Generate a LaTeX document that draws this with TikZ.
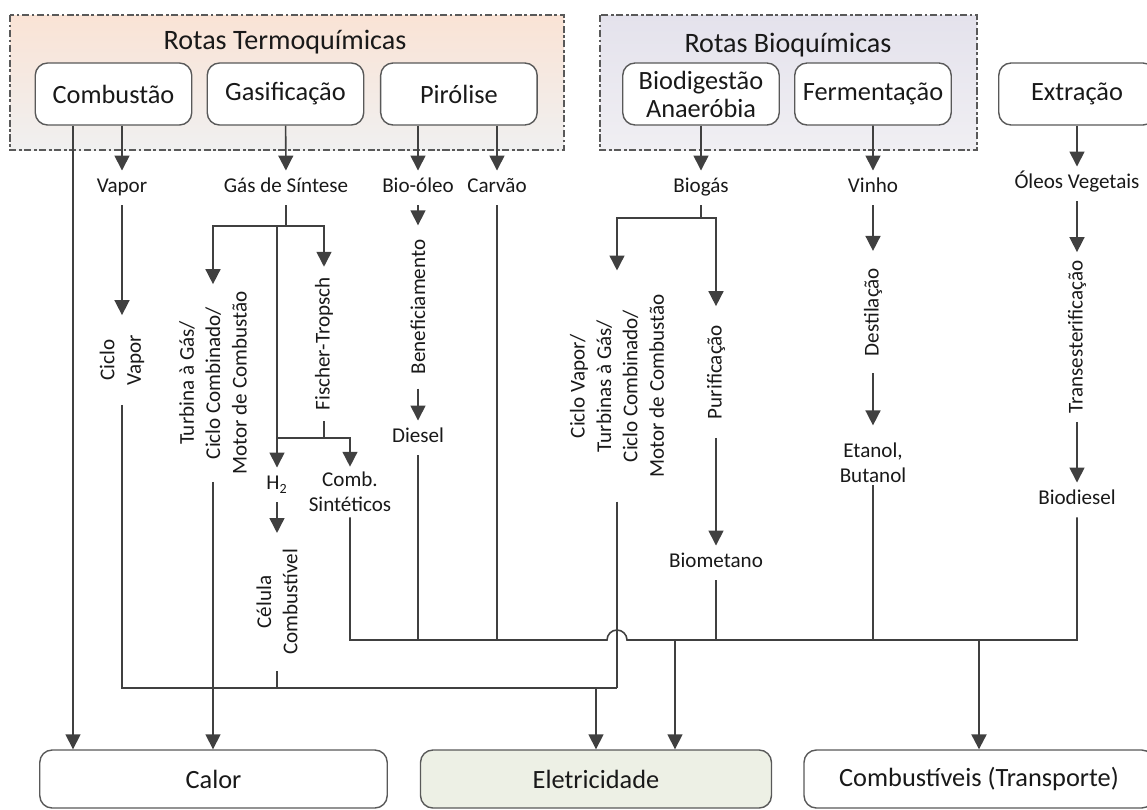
\documentclass[tikz,border=0pt]{standalone}
\usepackage{fontspec}
\setmainfont{Carlito}
\usetikzlibrary{arrows.meta,positioning}
\definecolor{linegray}{HTML}{404040}
\definecolor{boxgray}{HTML}{595959}
\definecolor{termotop}{HTML}{FAE3D5}
\definecolor{termobot}{HTML}{F0F0F0}
\definecolor{biotop}{HTML}{E4E2EC}
\definecolor{biobot}{HTML}{F0EFF3}
\definecolor{eletfill}{HTML}{EDF0E5}
\tikzset{
    component/.style={
    rectangle,rounded corners=7pt,draw=boxgray,line width=0.8pt,fill=white,
    minimum width=3.13cm,minimum height=1.24cm,align=center,
    font=\fontsize{15}{16}\selectfont
    },
    enduse/.style={
    component,minimum width=6.95cm,minimum height=1.16cm
    },
    grouptitle/.style={
    font=\fontsize{16}{18}\selectfont
    },
    dgroup/.style={
    draw=boxgray,line width=0.6pt,dash pattern=on 4pt off 1.5pt on 1.5pt off 1.5pt
    },
    product/.style={
    font=\fontsize{12}{15}\selectfont,inner xsep=2pt,inner ysep=4.5pt,
    text height=8pt,text depth=2.5pt
    },
    product2/.style={
    font=\fontsize{12}{14}\selectfont,align=center,inner sep=3pt
    },
    process/.style={
    font=\fontsize{12}{15}\selectfont,align=center,rotate=90,inner ysep=2pt
    },
    flow/.style={
    draw=linegray,line width=0.9pt
    },
    arr/.style={
    flow,-{Triangle[length=8.5pt,width=8.5pt]}
    },
}
\begin{document}
\begin{tikzpicture}[x=0.02cm, y=-0.02cm, on grid, text=black!90]
   \useasboundingbox (0,0) rectangle (1147,809);
   \draw[dgroup,top color=termotop,bottom color=termobot] (10,15) rectangle (564,150);
   \draw[dgroup,top color=biotop,bottom color=biobot] (600,15) rectangle (977,150);

   \node[grouptitle] (termo) at (285,42) {Rotas Termoquímicas};
   \node[component] (comb) at (113.5,94) {Combustão};
   \node[component] (gasif) [right=3.44cm of comb] {Gasificação};
   \node[component] (piro) [right=3.47cm of gasif] {Pirólise};
   \node[grouptitle] (bioq) at (788,45) {Rotas Bioquímicas};
   \node[component] (biodig) at (701,94) {Biodigestão\\Anaeróbia};
   \node[component] (ferm) [right=3.44cm of biodig] {Fermentação};
   \node[component] (extr) at (1077,94) {Extração};

   \node[enduse] (calor) at (213.5,779) {Calor};
   \node[enduse,fill=eletfill,minimum width=7.02cm] (eletr) at (596,779) {Eletricidade};
   \node[enduse,minimum width=7cm] (combust) at (979,779) {Combustíveis (Transporte)};

   \node[product] (vapor) at (122,188) {Vapor};
   \node[product] (gas) at (286,188) {Gás de Síntese};
   \node[product] (bioleo) at (418,188) {Bio-óleo};
   \node[product] (carvao) at (497,188) {Carvão};
   \node[product] (biogas) at (701,188) {Biogás};
   \node[product] (vinho) at (873,188) {Vinho};
   \node[product] (oleos) at (1077,184) {Óleos Vegetais};

   \node[process,inner xsep=11pt] (ciclovap) at (122,360) {Ciclo\\Vapor};
   \node[process,inner xsep=4pt] (turbina) at (213,383) {Turbina à Gás/\\Ciclo Combinado/\\Motor de Combustão};
   \node[process,inner xsep=6pt] (fischer) at (324,344) {Fischer-Tropsch};
   \node[process,inner xsep=8pt] (benef) at (418,307) {Beneficiamento};
   \node[process,inner xsep=13.5pt] (turbina2) at (617,386) {Ciclo Vapor/\\Turbinas à Gás/\\Ciclo Combinado/\\Motor de Combustão};
   \node[process,inner xsep=10.5pt] (purif) at (716,372) {Purificação};
   \node[process,inner xsep=9.5pt] (destil) at (873,312) {Destilação};
   \node[process,inner xsep=4.5pt] (transest) at (1077,337) {Transesterificação};
   \node[process,inner xsep=9pt] (celula) at (277,602) {Célula\\Combustível};

   \node[product] (diesel) at (418,438) {Diesel};
   \node[product] (h2) at (277,485) {H\textsubscript{2}};
   \node[product2] (combsint) at (350,492) {Comb.\\Sintéticos};
   \node[product2,inner sep=1pt] (etanol) at (873,463) {Etanol,\\Butanol};
   \node[product] (biodiesel) at (1077,500) {Biodiesel};
   \node[product] (biometano) at (716,563) {Biometano};

   \coordinate (gs) at (286,226);
   \coordinate (fj) at (324,438);
   \coordinate (bs) at (701,218);
   \coordinate (elbus) at (617,688);
   \coordinate (hump) at (617,640);
   \coordinate (fuelbus) at (1077,640);
   \coordinate (eletin) at (675,640);

   \draw[arr] ([xshift=-0.81cm]comb.south) -- ([xshift=-0.81cm]comb.south |- calor.north);
   \draw[arr] (vapor |- comb.south) -- (vapor);
   \draw[arr] (gasif) -- (gas);
   \draw[arr] (bioleo |- piro.south) -- (bioleo);
   \draw[arr] (carvao |- piro.south) -- (carvao);
   \draw[arr] (biodig) -- (biogas);
   \draw[arr] (ferm) -- (vinho);
   \draw[arr] (extr) -- (oleos);

   \draw[arr] (vapor) -- (ciclovap.east);
   \draw[flow] (gas) -- (gs);
   \draw[arr] (gs) -| (turbina.east);
   \draw[arr] (gs) -| (fischer.east);
   \draw[arr] (gs -| h2) -- (h2);
   \draw[flow] (fischer.west) -- (fj);
   \draw[arr] (fj -| h2) -| (combsint);
   \draw[arr] (h2) -- (celula.east);
   \draw[arr] (turbina.west) -- (turbina.west |- calor.north);
   \draw[arr] (bioleo) -- (benef.east);
   \draw[arr] (benef.west) -- (diesel);

   \draw[flow] (biogas) -- (bs);
   \draw[arr] (bs) -| (turbina2.east);
   \draw[arr] (bs) -| (purif.east);
   \draw[arr] (purif.west) -- (biometano);
   \draw[arr] (vinho) -- (destil.east);
   \draw[arr,shorten >=9pt] (destil.west) -- (etanol);
   \draw[arr] (oleos) -- (transest.east);
   \draw[arr] (transest.west) -- (biodiesel);

   \draw[flow] (ciclovap.west) |- (elbus);
   \draw[flow] (celula.west) -- (celula.west |- elbus);
   \draw[flow] (turbina2.west) -- (elbus);
   \draw[arr] (eletr.north |- elbus) -- (eletr.north);

   \draw[flow] (combsint) |- ([xshift=-0.2cm]hump) arc[start angle=180,end angle=0,radius=0.2cm] -- (fuelbus) -- (biodiesel);
   \draw[flow] (diesel) -- (diesel |- hump);
   \draw[flow] (carvao) -- (carvao |- hump);
   \draw[flow] (biometano) -- (biometano |- hump);
   \draw[flow] (etanol) -- (etanol |- hump);
   \draw[arr] (eletin) -- (eletin |- eletr.north);
   \draw[arr,line width=1.3pt] (combust.north |- hump) -- (combust.north);
\end{tikzpicture}
\end{document}
